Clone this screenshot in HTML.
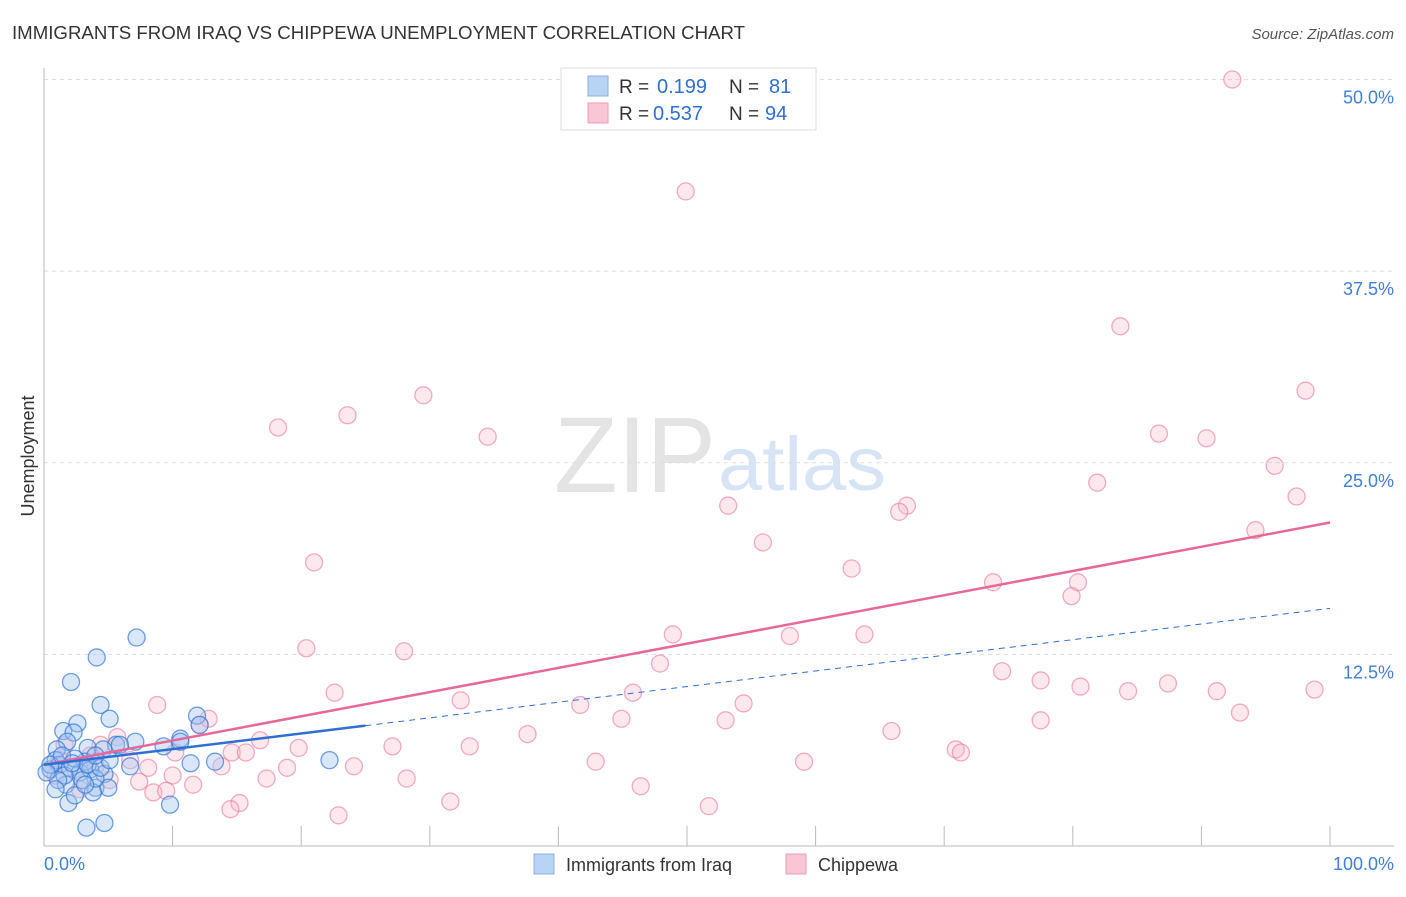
<!DOCTYPE html>
<html><head><meta charset="utf-8"><style>
body{margin:0;background:#fff;font-family:"Liberation Sans",sans-serif;}
svg text{font-family:"Liberation Sans",sans-serif;}
</style></head><body>
<svg id="chart" width="1406" height="892" xmlns="http://www.w3.org/2000/svg">
<text x="12" y="39" font-size="18" fill="#333" textLength="733" lengthAdjust="spacingAndGlyphs">IMMIGRANTS FROM IRAQ VS CHIPPEWA UNEMPLOYMENT CORRELATION CHART</text>
<text x="1394" y="39" font-size="15" fill="#555" font-style="italic" text-anchor="end">Source: ZipAtlas.com</text>
<text x="716" y="492" font-size="108" fill="#e4e4e4" text-anchor="end" font-family="Liberation Serif" textLength="162" lengthAdjust="spacingAndGlyphs">ZIP</text>
<text x="718" y="490" font-size="76" fill="#d6e4f5" textLength="168" lengthAdjust="spacingAndGlyphs">atlas</text>
<text transform="translate(34,456) rotate(-90)" font-size="18" fill="#333" text-anchor="middle">Unemployment</text>
<g id="grid"></g><g id="axes"></g><g id="pts"></g><g id="lines"></g>
<g>
<rect x="561" y="68" width="255" height="62" fill="#fff" stroke="#ddd"/>
<rect x="588" y="76" width="20" height="20" fill="#b9d3f5" stroke="#8ab2e8"/>
<rect x="588" y="103" width="20" height="20" fill="#f9c6d6" stroke="#f09ab5"/>
<text x="619" y="93" font-size="19" fill="#333">R = </text><text x="657" y="93" font-size="20" fill="#2f6fd1">0.199</text>
<text x="729" y="93" font-size="19" fill="#333">N = </text><text x="769" y="93" font-size="20" fill="#2f6fd1">81</text>
<text x="619" y="120" font-size="19" fill="#333">R = </text><text x="653" y="120" font-size="20" fill="#2f6fd1">0.537</text>
<text x="729" y="120" font-size="19" fill="#333">N = </text><text x="765" y="120" font-size="20" fill="#2f6fd1">94</text>
</g>
<g>
<rect x="534" y="854" width="20" height="20" fill="#b9d3f5" stroke="#8ab2e8"/>
<text x="566" y="871" font-size="18" fill="#333">Immigrants from Iraq</text>
<rect x="786" y="854" width="20" height="20" fill="#f9c6d6" stroke="#f09ab5"/>
<text x="818" y="871" font-size="18" fill="#333">Chippewa</text>
</g>
</svg>
<script>
const yTicks=[12.5,25,37.5,50];
const yTickLabels=["12.5%","25.0%","37.5%","50.0%"];
const xTickLabels=["0.0%","100.0%"];
const blueX=[7.2,4.1,2.1,4.4,11.9,5.1,2.6,1.5,2.3,10.6,1.8,3.4,1.0,9.3,12.1,7.1,5.6,4.6,10.6,22.2,11.4,6.7,13.3,4.7,4.0,1.7,5.0,3.8,1.9,9.8,4.7,3.3,0.5,0.9,1.2,2.0,2.8,3.2,2.4,1.6,3.6,4.0,0.5,1.1,0.2,1.4,2.2,3.0,3.4,4.4,5.1,5.9,4.0,0.9,2.4,3.2];
const blueY=[13.6,12.3,10.7,9.2,8.5,8.3,8.0,7.5,7.4,7.0,6.8,6.4,6.3,6.5,7.9,6.8,6.6,6.3,6.8,5.6,5.4,5.2,5.5,4.7,3.8,4.0,3.8,3.5,2.8,2.7,1.5,1.2,5.0,5.6,5.3,5.1,4.8,5.5,5.7,4.6,5.0,4.4,5.3,4.3,4.8,5.9,5.4,4.3,5.3,5.1,5.6,6.6,5.9,3.7,3.3,4.0];
const pinkX=[92.4,49.9,83.7,98.1,29.5,23.6,18.2,34.5,86.7,90.4,95.7,81.9,53.2,67.1,66.5,97.4,94.2,55.9,21.0,62.8,73.8,80.4,79.9,48.9,58.0,63.8,20.4,28.0,47.9,74.5,77.5,80.6,84.3,87.4,91.2,98.8,45.8,22.6,32.4,41.7,54.4,8.8,93.0,44.9,53.0,77.5,12.8,12.1,65.9,37.6,16.8,5.7,70.9,71.3,27.1,33.1,19.8,14.6,15.7,10.2,4.4,42.9,59.1,8.1,10.0,13.8,18.9,24.1,17.3,28.2,7.4,11.6,46.4,8.5,9.5,15.2,31.6,51.7,14.5,22.9,1.2,2.4,3.6,5.1,0.9,2.8,6.7,1.6,4.0];
const pinkY=[50.0,42.7,33.9,29.7,29.4,28.1,27.3,26.7,26.9,26.6,24.8,23.7,22.2,22.2,21.8,22.8,20.6,19.8,18.5,18.1,17.2,17.2,16.3,13.8,13.7,13.8,12.9,12.7,11.9,11.4,10.8,10.4,10.1,10.6,10.1,10.2,10.0,10.0,9.5,9.2,9.3,9.2,8.7,8.3,8.2,8.2,8.3,7.9,7.5,7.3,6.9,7.1,6.3,6.1,6.5,6.5,6.4,6.1,6.1,6.1,6.6,5.5,5.5,5.1,4.6,5.2,5.1,5.2,4.4,4.4,4.2,4.0,3.9,3.5,3.6,2.8,2.9,2.6,2.4,2.0,5.6,5.0,5.9,4.3,4.6,3.7,5.6,6.6,5.2];
const pinkTrend=[5.3,21.1];
const blueTrend=[5.3,15.5];
const blueSolidEnd=25;
const X=v=>44+v*12.86, Y=v=>846-v*15.33;
const NS="http://www.w3.org/2000/svg";
function mk(tag,attrs,parent){const e=document.createElementNS(NS,tag);for(const k in attrs)e.setAttribute(k,attrs[k]);parent.appendChild(e);return e;}
const grid=document.getElementById('grid'),axes=document.getElementById('axes'),pts=document.getElementById('pts'),lines=document.getElementById('lines');
yTicks.forEach((t,i)=>{
 const g=mk('line',{x1:44,x2:1394,y1:Y(t),y2:Y(t),stroke:'#ddd','stroke-dasharray':'4,4'},grid);
 
 
 const tx=mk('text',{x:1394,y:Y(t)+24,'font-size':18,fill:'#3f7fd6','text-anchor':'end'},axes);
 tx.textContent=yTickLabels[i];
 
 
});
const ax=mk('line',{x1:44,x2:44,y1:68,y2:846,stroke:'#bbb'},axes);


const bx=mk('line',{x1:44,x2:1394,y1:846,y2:846,stroke:'#bbb'},axes);


for(let i=1;i<=10;i++){const t=mk('line',{x1:X(i*10),x2:X(i*10),y1:826,y2:846,stroke:'#bbb'},axes);
 
 }
[[0,'start',44],[1,'end',1394]].forEach(([i,a,x])=>{const t=mk('text',{x:x,y:870,'font-size':18,fill:'#3f7fd6','text-anchor':a},axes);t.textContent=xTickLabels[i];
 
 });
pinkX.forEach((v,i)=>{const c=mk('circle',{cx:X(v),cy:Y(pinkY[i]),r:8.5,fill:'rgba(247,180,200,0.3)',stroke:'rgba(232,120,160,0.6)','stroke-width':1.3},pts);
 
 });
blueX.forEach((v,i)=>{const c=mk('circle',{cx:X(v),cy:Y(blueY[i]),r:8.5,fill:'rgba(160,195,240,0.4)',stroke:'rgba(50,120,215,0.7)','stroke-width':1.3},pts);
 
 });
const by=v=>blueTrend[0]+(blueTrend[1]-blueTrend[0])*v/100;
const l1=mk('line',{x1:X(0),y1:Y(pinkTrend[0]),x2:X(100),y2:Y(pinkTrend[1]),stroke:'#e8679a','stroke-width':2.5},lines);


const l2=mk('line',{x1:X(0),y1:Y(by(0)),x2:X(blueSolidEnd),y2:Y(by(blueSolidEnd)),stroke:'#2f6fd1','stroke-width':2.5},lines);


const l3=mk('line',{x1:X(blueSolidEnd),y1:Y(by(blueSolidEnd)),x2:X(100),y2:Y(by(100)),stroke:'#2f6fd1','stroke-width':1,'stroke-dasharray':'6,5'},lines);


</script>
</body></html>
